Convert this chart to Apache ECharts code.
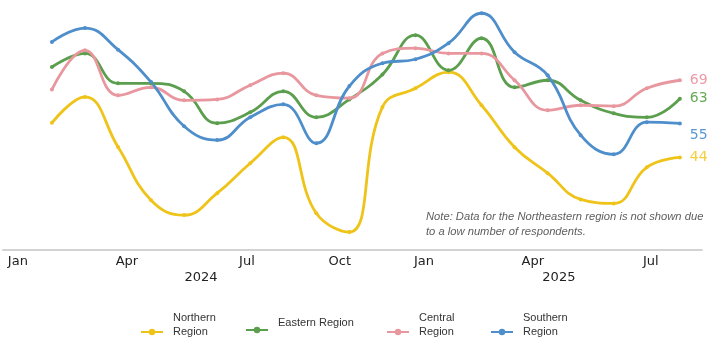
<!DOCTYPE html>
<html>
<head>
<meta charset="utf-8">
<script src="https://cdn.jsdelivr.net/npm/echarts@6/dist/echarts.min.js"></script>
<style>
html,body{margin:0;padding:0;background:#fff;}
#c{width:709px;height:338px;}
</style>
</head>
<body>
<div id="c"></div>
<script>
// Series values (one point per period, 20 periods)
const northern = [55.2, 63.6, 47.4, 30.1, 25.3, 32.4, 42.1, 50.5, 25.9, 19.8, 60.3, 66.4, 71.6, 60.9, 47.3, 38.9, 30.4, 29.1, 40.8, 44];
const eastern  = [73.3, 77.7, 68.0, 68.0, 65.4, 55.1, 58.6, 65.4, 57.0, 62.8, 70.9, 83.6, 72.2, 82.6, 66.7, 69.0, 62.5, 58.3, 57.0, 63];
const central  = [66.0, 78.7, 64.1, 66.7, 62.5, 62.8, 67.4, 71.3, 64.1, 63.2, 77.7, 79.4, 77.7, 77.7, 69.0, 59.3, 60.9, 60.6, 66.4, 69];
const southern = [81.4, 85.9, 78.9, 68.4, 54.1, 49.6, 57.0, 61.2, 48.6, 67.1, 74.5, 75.8, 81.0, 90.7, 78.1, 70.6, 51.2, 45.0, 55.4, 55];

const seriesNames = ['Northern Region', 'Eastern Region', 'Central Region', 'Southern Region'];
const legendLabels = ['Northern\nRegion', 'Eastern Region', 'Central\nRegion', 'Southern\nRegion'];

// Tick labels and where they sit on the period axis
const monthLabels = ['Jan', 'Apr', 'Jul', 'Oct', 'Jan', 'Apr', 'Jul'];
const monthAt = [-1.03, 2.27, 5.90, 8.71, 11.26, 14.55, 18.12];
const yearLabels = ['2024', '2025'];
const yearAt = [4.51, 15.34];

const noteText = ['Note: Data for the Northeastern region is not shown due', 'to a low number of respondents.'];

const colors = ['#EFC41A', '#5B9E4D', '#E8979F', '#4E8ECB'];
const labelColors = ['#F2CF3E', '#66A857', '#EC9BA6', '#5A97D0'];

const allValues = [northern, eastern, central, southern];

const chart = echarts.init(document.getElementById('c'), null, {renderer: 'canvas'});

const XMIN = -1.48, XMAX = 19.67;

const series = allValues.map((vals, k) => ({
  name: seriesNames[k],
  type: 'line',
  smooth: 0.45,
  data: vals.map((v, i) => [i, v]),
  symbol: 'circle',
  symbolSize: 4,
  showSymbol: true,
  itemStyle: {color: colors[k]},
  lineStyle: {width: 2.8, color: colors[k]},
  emphasis: {disabled: true},
  z: k === 0 ? 2 : 3,
  endLabel: {
    show: true,
    formatter: p => Math.round(p.value[1]),
    color: labelColors[k],
    fontFamily: 'DejaVu Sans',
    fontSize: 14,
    distance: 10,
    offset: k === 3 ? [0, 12] : [0, 0]
  }
}));

const legendLefts = [135, 240, 381, 485];
const twoLine = [true, false, true, true];
const legends = seriesNames.map((n, k) => ({
  data: [n],
  left: legendLefts[k],
  top: twoLine[k] ? 306 : 311,
  orient: 'horizontal',
  itemWidth: 22,
  itemHeight: 8,
  selectedMode: false,
  formatter: () => legendLabels[k] + '\n ',
  textStyle: {
    fontFamily: 'Liberation Sans',
    fontSize: 11,
    color: '#333',
    lineHeight: 14,
    padding: [0, 0, 0, 5]
  }
}));

chart.setOption({
  animation: false,
  backgroundColor: '#ffffff',
  color: colors,
  grid: {left: 3, right: 7, top: 0, height: 250, containLabel: false},
  xAxis: [
    {
      type: 'value', min: XMIN, max: XMAX, position: 'bottom',
      axisLine: {show: true, lineStyle: {color: '#d3d3d3', width: 2}},
      axisTick: {show: false},
      splitLine: {show: false},
      axisLabel: {
        customValues: monthAt,
        formatter: v => monthLabels[monthAt.indexOf(v)] || '',
        fontFamily: 'DejaVu Sans', fontSize: 13, color: '#222', margin: 5
      }
    },
    {
      type: 'value', min: XMIN, max: XMAX, position: 'bottom', gridIndex: 0,
      axisLine: {show: false}, axisTick: {show: false}, splitLine: {show: false},
      axisLabel: {
        customValues: yearAt,
        formatter: v => yearLabels[yearAt.indexOf(v)] || '',
        fontFamily: 'DejaVu Sans', fontSize: 13, color: '#222', margin: 21
      }
    }
  ],
  yAxis: {
    type: 'value', min: 14, max: 95,
    show: false, splitLine: {show: false}
  },
  legend: legends,
  graphic: noteText.map((t, i) => ({
    type: 'text',
    left: 426,
    top: 211 + i * 15,
    style: {
      text: t,
      fill: '#5e5e5e',
      font: 'italic 11.2px "Liberation Sans"'
    }
  })),
  series: series
});
</script>
</body>
</html>
